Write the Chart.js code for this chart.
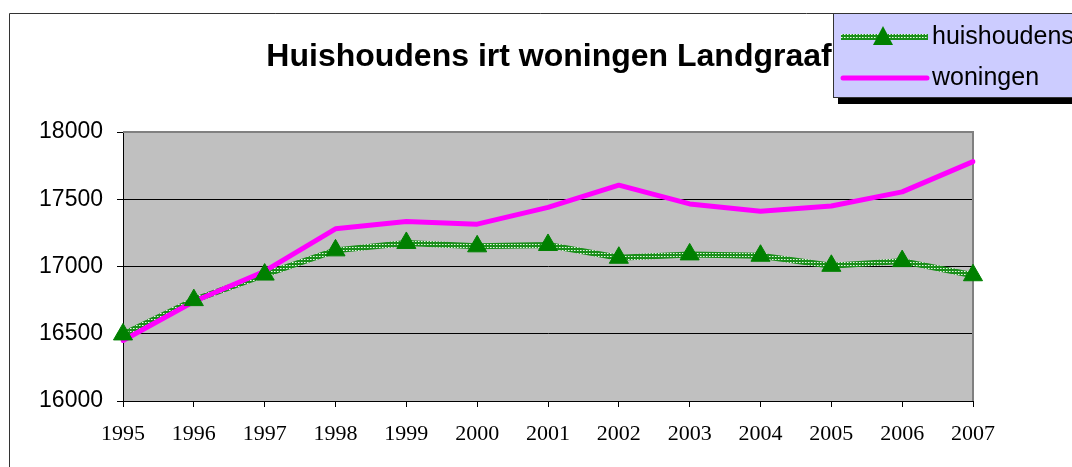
<!DOCTYPE html>
<html>
<head>
<meta charset="utf-8">
<script src="https://cdn.jsdelivr.net/npm/chart.js@4.4.0/dist/chart.umd.min.js"></script>
<style>
html,body{margin:0;padding:0;background:#fff;}
#wrap{width:1072px;height:467px;position:relative;}
</style>
</head>
<body>
<div id="wrap"><canvas id="c" width="1072" height="467"></canvas></div>
<script>
const titleText = 'Huishoudens irt woningen Landgraaf';
const years = ['1995','1996','1997','1998','1999','2000','2001','2002','2003','2004','2005','2006','2007'];
const huishoudens = [16495, 16750, 16940, 17120, 17175, 17150, 17160, 17065, 17090, 17080, 17005, 17040, 16935];
const woningen = [16450, 16740, 16965, 17280, 17335, 17315, 17440, 17605, 17465, 17410, 17450, 17555, 17780];
const yTicks = [16000, 16500, 17000, 17500, 18000];

const GREEN = '#008000';
const MAGENTA = '#FF00FF';

// green/white dotted line pattern
const pc = document.createElement('canvas');
pc.width = 3; pc.height = 3;
const pctx = pc.getContext('2d');
pctx.fillStyle = '#1a8f1a'; pctx.fillRect(0,0,3,3);
pctx.fillStyle = '#e8f8e8'; pctx.fillRect(1,1,1,1);
pctx.fillStyle = '#8cc88c'; pctx.fillRect(2,1,1,1);
const ctxMain = document.getElementById('c').getContext('2d');
const greenPattern = ctxMain.createPattern(pc, 'repeat');

const decor = {
  id: 'decor',
  beforeDraw(chart) {
    const {ctx, chartArea: a} = chart;
    ctx.save();
    ctx.fillStyle = '#fff';
    ctx.fillRect(0,0,chart.width,chart.height);
    ctx.strokeStyle = '#333';
    ctx.lineWidth = 1;
    ctx.beginPath();
    ctx.moveTo(9.5, 467); ctx.lineTo(9.5, 13.5); ctx.lineTo(1072, 13.5);
    ctx.stroke();
    ctx.fillStyle = '#C0C0C0';
    ctx.fillRect(a.left, a.top, a.right - a.left, a.bottom - a.top);
    ctx.restore();
  },
  beforeDatasetsDraw(chart) {
    const {ctx, chartArea: a} = chart;
    ctx.save();
    ctx.strokeStyle = '#808080';
    ctx.lineWidth = 2;
    ctx.beginPath();
    ctx.moveTo(a.left, a.top); ctx.lineTo(a.right, a.top); ctx.lineTo(a.right, a.bottom);
    ctx.stroke();
    ctx.restore();
  },
  afterDraw(chart) {
    const {ctx} = chart;
    ctx.save();
    ctx.fillStyle = '#000';
    ctx.font = 'bold 32px "Liberation Sans", Arial, sans-serif';
    ctx.textAlign = 'center';
    ctx.textBaseline = 'alphabetic';
    ctx.fillText(titleText, 549, 66);
    ctx.fillStyle = '#000';
    ctx.fillRect(838, 97, 1072 - 838, 7);
    ctx.fillStyle = '#CCCCFF';
    ctx.fillRect(833, 13, 1072 - 833, 84);
    ctx.strokeStyle = '#333';
    ctx.lineWidth = 1;
    ctx.strokeRect(833.5, 13.5, 1072 - 833, 84);
    const ds = chart.data.datasets;
    ctx.lineCap = 'butt';
    ctx.strokeStyle = greenPattern;
    ctx.lineWidth = 6;
    ctx.beginPath(); ctx.moveTo(841, 37); ctx.lineTo(928, 37); ctx.stroke();
    ctx.fillStyle = GREEN;
    ctx.beginPath();
    ctx.moveTo(883, 26); ctx.lineTo(893, 45); ctx.lineTo(873, 45); ctx.closePath(); ctx.fill();
    ctx.strokeStyle = MAGENTA;
    ctx.lineWidth = 5;
    ctx.lineCap = 'round';
    ctx.beginPath(); ctx.moveTo(843, 78); ctx.lineTo(927, 78); ctx.stroke();
    ctx.fillStyle = '#000';
    ctx.font = '25px "Liberation Sans", Arial, sans-serif';
    ctx.textAlign = 'left';
    ctx.textBaseline = 'middle';
    ctx.fillText(ds[2].label, 932, 37);
    ctx.fillText(ds[1].label, 932, 78);
    ctx.restore();
  }
};

new Chart(ctxMain, {
  type: 'line',
  data: {
    labels: years,
    datasets: [
      {
        label: 'huishoudens',
        data: huishoudens,
        showLine: false,
        pointStyle: 'triangle',
        pointRadius: 11,
        pointBackgroundColor: GREEN,
        pointBorderColor: GREEN,
        pointBorderWidth: 1
      },
      {
        label: 'woningen',
        data: woningen,
        borderColor: MAGENTA,
        borderWidth: 5,
        pointRadius: 0,
        tension: 0,
        borderCapStyle: 'round',
        borderJoinStyle: 'round'
      },
      {
        label: 'huishoudens',
        data: huishoudens,
        borderColor: greenPattern,
        borderWidth: 6,
        pointRadius: 0,
        tension: 0,
        borderJoinStyle: 'round'
      }
    ]
  },
  options: {
    responsive: false,
    animation: false,
    events: [],
    layout: { padding: { left: 0, right: 99, top: 132, bottom: 0 } },
    plugins: { legend: { display: false }, title: { display: false }, tooltip: { enabled: false } },
    scales: {
      x: {
        offset: false,
        afterFit(s) { s.height = 66; },
        grid: { drawOnChartArea: false, color: '#000', tickLength: 6, lineWidth: 1 },
        border: { color: '#000', width: 1 },
        ticks: {
          color: '#000',
          font: { family: '"Liberation Serif", "Times New Roman", serif', size: 22 },
          padding: 14,
          maxRotation: 0,
          autoSkip: false
        }
      },
      y: {
        min: 16000,
        max: 18000,
        afterFit(s) { s.width = 123; },
        afterBuildTicks(s) { s.ticks = yTicks.map(v => ({ value: v })); },
        grid: { color: '#000', lineWidth: 1, tickLength: 6 },
        border: { color: '#000', width: 1 },
        ticks: {
          color: '#000',
          font: { family: '"Liberation Sans", Arial, sans-serif', size: 23 },
          padding: 14,
          callback: v => String(v)
        }
      }
    }
  },
  plugins: [decor]
});
</script>
</body>
</html>
